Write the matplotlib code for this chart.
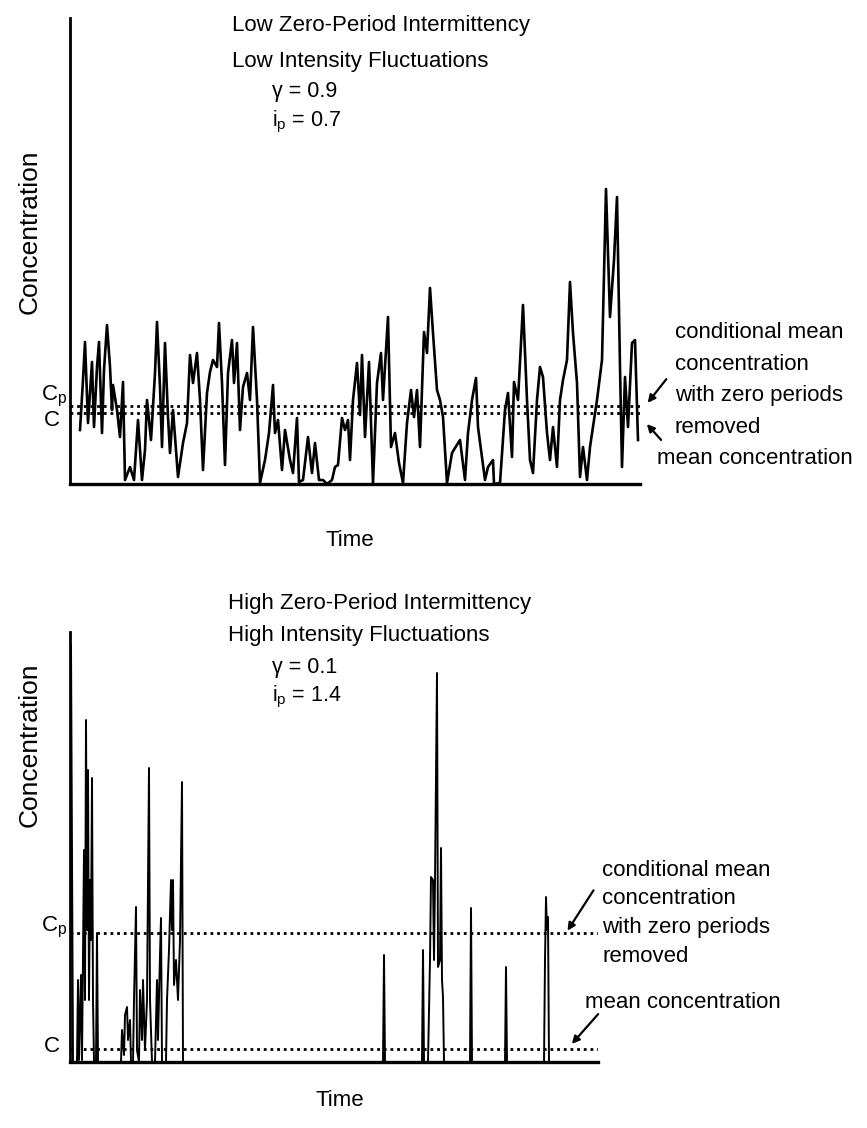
import matplotlib
matplotlib.use("Agg")
import matplotlib.pyplot as plt

plt.rcParams['font.family'] = ['Liberation Sans', 'DejaVu Sans']
plt.rcParams['mathtext.default'] = 'regular'

# --- data (arbitrary units, axis origin at 0) ---
# top record: low zero-period intermittency
time_top = [10, 13, 15, 18, 22, 24, 27, 29, 32, 34, 37, 40, 42, 43, 47, 50, 53, 55, 60, 64,
            68, 72, 75, 77, 81, 85, 87, 90, 92, 95, 98, 100, 103, 108, 113, 117, 120, 123, 127, 130,
            133, 137, 140, 143, 147, 149, 152, 155, 158, 162, 164, 167, 170, 173, 177, 180, 183, 187, 190, 195,
            199, 203, 205, 208, 212, 215, 220, 223, 227, 229, 233, 238, 242, 245, 249, 253, 257, 262, 265, 268,
            272, 275, 278, 280, 283, 287, 290, 292, 295, 299, 303, 307, 311, 313, 318, 321, 325, 329, 333, 337,
            341, 344, 347, 350, 354, 357, 360, 363, 367, 370, 373, 377, 382, 385, 390, 395, 398, 402, 406, 408,
            412, 415, 418, 423, 424, 430, 435, 438, 442, 444, 448, 453, 457, 460, 463, 467, 470, 473, 477, 480,
            483, 487, 490, 493, 497, 500, 503, 507, 510, 513, 517, 520, 523, 527, 532, 536, 540, 544, 547, 550,
            552, 555, 558, 562, 565, 568]
conc_top = [54, 104, 142, 61, 122, 57, 117, 142, 51, 114, 159, 117, 74, 99, 74, 47, 102, 4, 17, 4,
            64, 4, 34, 84, 44, 111, 162, 97, 37, 141, 67, 31, 74, 7, 41, 61, 129, 101, 131, 84,
            14, 91, 112, 124, 117, 161, 101, 19, 111, 144, 101, 141, 54, 97, 111, 84, 157, 84, 1, 24,
            51, 99, 51, 64, 14, 54, 24, 11, 66, 2, 4, 47, 11, 41, 4, 4, 0, 4, 17, 19,
            66, 54, 64, 24, 84, 121, 69, 129, 47, 122, 1, 101, 131, 84, 167, 37, 51, 21, 1, 61,
            94, 67, 94, 37, 152, 131, 196, 151, 94, 84, 67, 1, 31, 36, 44, 4, 51, 84, 106, 57,
            27, 4, 17, 24, 0, 1, 74, 91, 27, 102, 84, 179, 84, 24, 11, 84, 117, 107, 51, 24,
            57, 17, 84, 104, 124, 202, 151, 101, 7, 37, 4, 37, 57, 84, 124, 295, 167, 224, 287, 117,
            17, 107, 57, 141, 144, 44]
cp_top = 78      # conditional mean, zero periods removed
c_top = 71       # mean concentration

# bottom record: high zero-period intermittency
time_bot = [0, 1, 3, 7, 8, 9, 11, 12, 14, 15, 16, 17, 18, 19, 20, 21, 22, 23, 24, 26,
            27, 28, 51, 52, 54, 55, 57, 58, 60, 61, 63, 64, 66, 67, 69, 70, 72, 73, 75, 77,
            79, 80, 82, 85, 87, 88, 90, 91, 92, 96, 97, 99, 101, 102, 103, 104, 106, 108, 110, 112,
            113, 313, 314, 315, 352, 353, 354, 358, 360, 361, 363, 364, 365, 367, 368, 370, 371, 372, 373, 374,
            400, 401, 402, 435, 436, 437, 474, 475, 476, 477, 478, 479, 528]
conc_bot = [0, 417, 0, 0, 82, 2, 87, 2, 212, 62, 342, 132, 292, 62, 182, 122, 284, 62, 0, 0,
            129, 0, 0, 32, 7, 47, 55, 22, 42, 0, 0, 62, 155, 12, 0, 72, 22, 82, 12, 62,
            294, 62, 0, 0, 82, 22, 107, 144, 0, 0, 62, 112, 182, 132, 182, 77, 102, 62, 122, 280,
            0, 0, 107, 0, 0, 112, 0, 0, 102, 185, 182, 102, 182, 389, 95, 102, 214, 82, 65, 0,
            0, 154, 0, 0, 95, 0, 0, 102, 165, 132, 145, 0, 0]
cp_bot = 129
c_bot = 13

W, H = 867, 1128


def fx(x):
    return x / W


def fy(y):
    return 1 - y / H


def arrow(x0, y0, x1, y1):
    fig.add_artist(plt.Annotation("", xy=(fx(x1), fy(y1)), xytext=(fx(x0), fy(y0)),
                                  xycoords="figure fraction",
                                  arrowprops=dict(arrowstyle="-|>", color="black", lw=1.6,
                                                  mutation_scale=11)))


fig = plt.figure(figsize=(W / 100, H / 100), dpi=100)

# axes boxes in reference pixels: (left, top, right, bottom)
boxes = [(70, 18, 640, 484), (70, 632, 598, 1062)]
series = [(time_top, conc_top, cp_top, c_top, 1.9), (time_bot, conc_bot, cp_bot, c_bot, 1.4)]

for (l, t, r, b), (tt, cc, cp, cm, lw) in zip(boxes, series):
    ax = fig.add_axes([fx(l), fy(b), (r - l) / W, (b - t) / H])
    ax.plot(tt, cc, color="black", lw=lw)
    for level in (cp, cm):
        ax.axhline(level, color="black", lw=2, linestyle=(0, (1, 1.4)))
    ax.set_xlim(0, r - l)
    ax.set_ylim(0, b - t)
    ax.set_xticks([])
    ax.set_yticks([])
    ax.spines[["top", "right"]].set_visible(False)
    ax.spines["left"].set_linewidth(2)
    ax.spines["bottom"].set_linewidth(2.4)

fs = 16
fs_par = 15.5
fs_lab = 19

# top panel texts
fig.text(fx(232), fy(25), "Low Zero-Period Intermittency", fontsize=fs, va="center")
fig.text(fx(232), fy(62), "Low Intensity Fluctuations", fontsize=fs, va="center")
fig.text(fx(272), fy(92), "γ = 0.9", fontsize=fs_par, va="center")
fig.text(fx(272), fy(122), "$i_p$ = 0.7", fontsize=fs_par, va="center")
fig.text(fx(30), fy(232), "Concentration", fontsize=fs_lab, rotation=90, ha="center", va="center")
fig.text(fx(350), fy(540), "Time", fontsize=fs, ha="center", va="center")
fig.text(fx(67), fy(396), "$C_p$", fontsize=fs, ha="right", va="center")
fig.text(fx(60), fy(421), "C", fontsize=fs, ha="right", va="center")
for i, line in enumerate(["conditional mean", "concentration", "with zero periods", "removed"]):
    fig.text(fx(675), fy(333 + 31.5 * i), line, fontsize=fs, va="center")
fig.text(fx(657), fy(458), "mean concentration", fontsize=fs, va="center")
arrow(668, 377, 646, 405)
arrow(663, 442, 645, 422)

# bottom panel texts
fig.text(fx(228), fy(603), "High Zero-Period Intermittency", fontsize=fs, va="center")
fig.text(fx(228), fy(635), "High Intensity Fluctuations", fontsize=fs, va="center")
fig.text(fx(272), fy(668), "γ = 0.1", fontsize=fs_par, va="center")
fig.text(fx(272), fy(697), "$i_p$ = 1.4", fontsize=fs_par, va="center")
fig.text(fx(30), fy(745), "Concentration", fontsize=fs_lab, rotation=90, ha="center", va="center")
fig.text(fx(340), fy(1100), "Time", fontsize=fs, ha="center", va="center")
fig.text(fx(67), fy(927), "$C_p$", fontsize=fs, ha="right", va="center")
fig.text(fx(60), fy(1047), "C", fontsize=fs, ha="right", va="center")
for i, line in enumerate(["conditional mean", "concentration", "with zero periods", "removed"]):
    fig.text(fx(602), fy(870 + 29 * i), line, fontsize=fs, va="center")
fig.text(fx(585), fy(1002), "mean concentration", fontsize=fs, va="center")
arrow(595, 888, 566, 933)
arrow(600, 1012, 570, 1046)

fig.savefig("out.png", dpi=100)
